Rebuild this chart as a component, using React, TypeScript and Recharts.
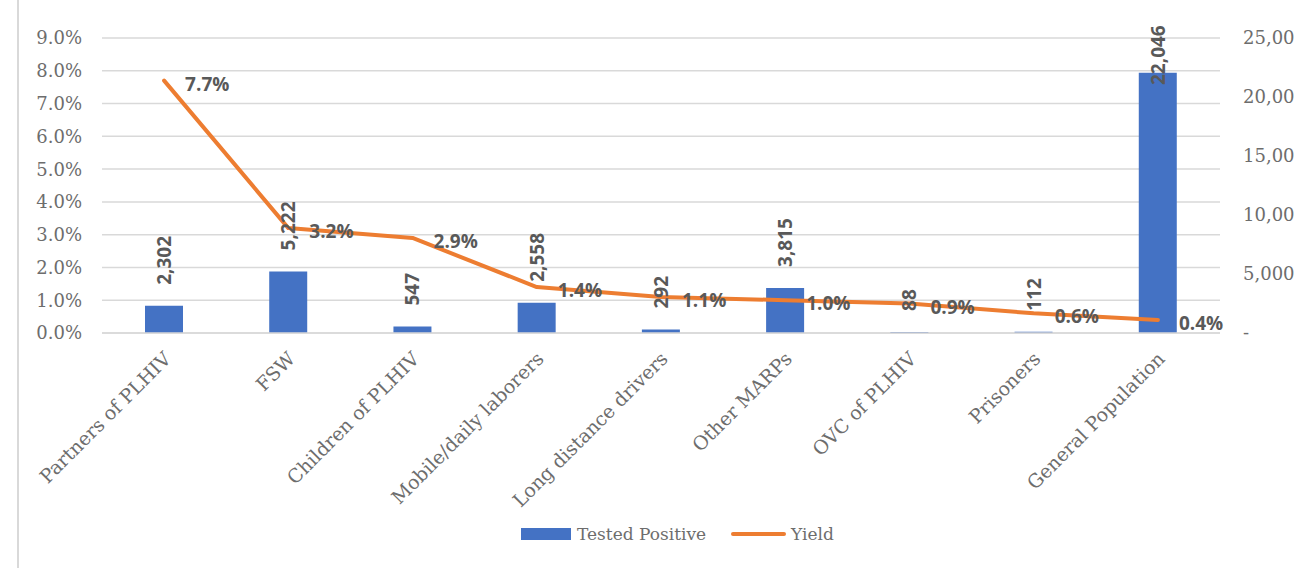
import React from 'react';
import {
  ComposedChart,
  Bar,
  Line,
  XAxis,
  YAxis,
  CartesianGrid,
  Legend,
  LabelList,
} from 'recharts';

// ── Data ───────────────────────────────────────────────────

const categories = [
  'Partners of PLHIV',
  'FSW',
  'Children of PLHIV',
  'Mobile/daily laborers',
  'Long distance drivers',
  'Other MARPs',
  'OVC of PLHIV',
  'Prisoners',
  'General Population',
];

const testedPositive = [2302, 5222, 547, 2558, 292, 3815, 88, 112, 22046];

const yieldRate = [0.077, 0.032, 0.029, 0.014, 0.011, 0.01, 0.009, 0.006, 0.004];

const pctTicks = [0, 0.01, 0.02, 0.03, 0.04, 0.05, 0.06, 0.07, 0.08, 0.09];
const countTicks = [0, 5000, 10000, 15000, 20000, 25000];

const rows = categories.map((category, i) => ({
  category,
  positive: testedPositive[i],
  yield: yieldRate[i],
}));

// ── Styles ─────────────────────────────────────────────────

const W = 1294;
const H = 568;
const BLUE = '#4472C4';
const ORANGE = '#ED7D31';
const GRID = '#d9d9d9';
const AXIS_TEXT = '#6d6d6d';
const LABEL_TEXT = '#595959';
const SERIF = '"DejaVu Serif", serif';
const SANS = '"Open Sans", sans-serif';
const PLOT_TOP = 38;

// ── Formatters ─────────────────────────────────────────────

const fmtPct = (v: number) => `${(v * 100).toFixed(1)}%`;
const fmtCount = (v: number) => (v === 0 ? '-' : v.toLocaleString('en-US'));

// ── Custom pieces ──────────────────────────────────────────

function CategoryTick({ x, payload }: any) {
  return (
    <g transform={`translate(${x + 8},${360})`}>
      <text
        textAnchor="end"
        transform="rotate(-45)"
        fill={AXIS_TEXT}
        fontFamily={SERIF}
        fontSize={19}
      >
        {payload.value}
      </text>
    </g>
  );
}

function BarValueLabel({ x, y, width, value }: any) {
  const text = Number(value).toLocaleString('en-US');
  const approxLen = text.length * 11.5;
  // keep the rotated label inside the chart when the bar is tall
  const start = Math.max(y - 21, PLOT_TOP - 22 + approxLen);
  const cx = x + width / 2 + 7;
  return (
    <text
      transform={`translate(${cx},${start}) rotate(-90)`}
      textAnchor="start"
      fill={LABEL_TEXT}
      fontFamily={SANS}
      fontWeight={700}
      fontSize={19}
    >
      {text}
    </text>
  );
}

function YieldLabel({ x, y, value }: any) {
  return (
    <text
      x={x + 21}
      y={y + 3}
      dominantBaseline="central"
      fill={LABEL_TEXT}
      fontFamily={SANS}
      fontWeight={700}
      fontSize={19}
    >
      {fmtPct(Number(value))}
    </text>
  );
}

function LegendContent() {
  return (
    <div
      style={{
        display: 'flex',
        alignItems: 'center',
        paddingLeft: 521,
        fontFamily: SERIF,
        fontSize: 17,
        color: AXIS_TEXT,
      }}
    >
      <span style={{ display: 'inline-block', width: 50, height: 12, background: BLUE, marginRight: 6 }} />
      <span style={{ marginRight: 25 }}>Tested Positive</span>
      <span style={{ display: 'inline-block', width: 55, height: 4, borderRadius: 2, background: ORANGE, marginRight: 5 }} />
      <span>Yield</span>
    </div>
  );
}

// ── Component ──────────────────────────────────────────────

export default function App() {
  return (
    <div style={{ position: 'relative', width: W, height: H, background: '#fff', overflow: 'hidden' }}>
      <style>{'body{margin:0}'}</style>
      <div style={{ position: 'absolute', left: 17, top: 0, width: 2, height: H, background: GRID }} />
      <ComposedChart
        width={W}
        height={H}
        data={rows}
        margin={{ top: PLOT_TOP, right: 0, bottom: 0, left: 0 }}
      >
        <CartesianGrid yAxisId="pct" vertical={false} stroke={GRID} strokeWidth={1.5} />
        <XAxis
          dataKey="category"
          interval={0}
          height={235}
          axisLine={{ stroke: GRID, strokeWidth: 1.5 }}
          tickLine={false}
          tick={<CategoryTick />}
        />
        <YAxis
          yAxisId="pct"
          orientation="left"
          width={102}
          domain={[0, 0.09]}
          ticks={pctTicks}
          tickFormatter={fmtPct}
          axisLine={false}
          tickLine={false}
          tickSize={0}
          tickMargin={20}
          tick={{ fill: AXIS_TEXT, fontFamily: SERIF, fontSize: 18 }}
        />
        <YAxis
          yAxisId="count"
          orientation="right"
          width={74}
          domain={[0, 25000]}
          ticks={countTicks}
          tickFormatter={fmtCount}
          axisLine={false}
          tickLine={false}
          tickSize={0}
          tickMargin={23}
          tick={{ fill: AXIS_TEXT, fontFamily: SERIF, fontSize: 18, textAnchor: 'start' }}
        />
        <Bar
          yAxisId="count"
          dataKey="positive"
          name="Tested Positive"
          fill={BLUE}
          barSize={38}
          isAnimationActive={false}
        >
          <LabelList dataKey="positive" content={<BarValueLabel />} />
        </Bar>
        <Line
          yAxisId="pct"
          type="linear"
          dataKey="yield"
          name="Yield"
          stroke={ORANGE}
          strokeWidth={4}
          strokeLinecap="round"
          strokeLinejoin="round"
          dot={false}
          activeDot={false}
          isAnimationActive={false}
        >
          <LabelList dataKey="yield" content={<YieldLabel />} />
        </Line>
        <Legend
          layout="horizontal"
          verticalAlign="middle"
          align="center"
          content={<LegendContent />}
          wrapperStyle={{ top: 524, left: 0, width: W }}
        />
      </ComposedChart>
    </div>
  );
}
